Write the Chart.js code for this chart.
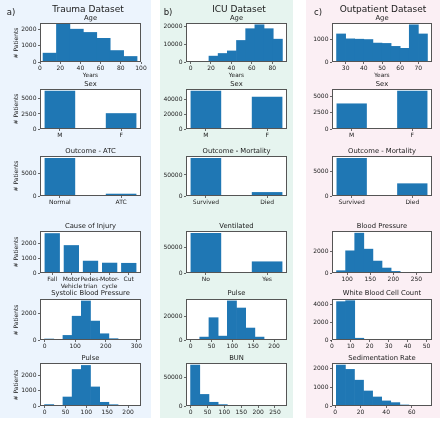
<!DOCTYPE html>
<html><head><meta charset="utf-8">
<script src="https://cdn.jsdelivr.net/npm/chart.js@4.4.0/dist/chart.umd.min.js"></script>
<style>
html,body{margin:0;padding:0;}
body{width:440px;height:421px;position:relative;overflow:hidden;background:#fff;font-family:'DejaVu Sans',sans-serif;}
.panel{position:absolute;}
.t{position:absolute;transform:translate(-50%,-50%);white-space:nowrap;color:#1a1a1a;line-height:1;}
.yl{position:absolute;transform:translate(-50%,-50%) rotate(-90deg);white-space:nowrap;color:#1a1a1a;font-size:6px;line-height:1;}
canvas{position:absolute;}
</style></head><body>
<div class="panel" style="left:0;top:0;width:151px;height:418px;background:#ecf4fd"></div>
<div class="panel" style="left:160px;top:0;width:133px;height:418px;background:#e6f4ef"></div>
<div class="panel" style="left:306px;top:0;width:134px;height:418px;background:#fbeff4"></div>
<script>
// ---------- Trauma dataset ----------
const traumaAgeCenters = [9.65, 22.95, 36.25, 49.55, 62.85, 76.15, 89.45];
const traumaAge = [545, 2320, 2020, 1820, 1455, 705, 340];
const sexLabels = ['M', 'F'];
const traumaSex = [6350, 2630];
const atcLabels = ['Normal', 'ATC'];
const traumaATC = [8590, 515];
const injuryLabels = ['Fall', ['Motor', 'Vehicle'], ['Pedes-', 'trian'], ['Motor-', 'cycle'], 'Cut'];
const traumaInjury = [2730, 1910, 840, 705, 690];
const traumaSbpCenters = [15, 45, 75, 105, 135, 165, 195, 225, 255, 285];
const traumaSbp = [75, 0, 350, 1810, 2970, 1440, 475, 100, 15, 5];
const traumaPulseCenters = [11, 33, 55, 77, 99, 121, 143, 165, 187, 209];
const traumaPulse = [92, 0, 590, 2395, 2660, 1250, 243, 85, 10, 5];

// ---------- ICU dataset ----------
const icuAgeCenters = [4.5, 13.5, 22.5, 31.5, 40.5, 49.5, 58.5, 67.5, 76.5, 85.5];
const icuAge = [20, 300, 3270, 4740, 6160, 11990, 18530, 20710, 18530, 12700];
const icuSex = [51000, 43000];
const mortLabels = ['Survived', 'Died'];
const icuMort = [90300, 9300];
const ventLabels = ['No', 'Yes'];
const icuVent = [79300, 23000];
const icuPulseCenters = [11, 33, 55, 77, 99, 121, 143, 165, 187, 209];
const icuPulse = [100, 2430, 18650, 3240, 32700, 26760, 10000, 2430, 500, 100];
const icuBunCenters = [13.6, 40.8, 68, 95.2, 122.4, 149.6, 176.8, 204, 231.2, 258.4];
const icuBun = [71400, 20200, 6500, 2400, 800, 300, 150, 60, 30, 10];

// ---------- Outpatient dataset ----------
const outAgeCenters = [27.5, 32.5, 37.5, 42.5, 47.5, 52.5, 57.5, 62.5, 67.5, 72.5];
const outAge = [1230, 1015, 1000, 985, 830, 815, 685, 600, 1630, 1230];
const outSex = [3960, 5910];
const outMort = [7660, 2540];
const outBpCenters = [86.85, 106.55, 126.25, 145.95, 165.65, 185.35, 205.05, 224.75, 244.45, 264.15];
const outBp = [215, 2060, 3700, 2215, 1108, 460, 150, 50, 15, 5];
const outWbcCenters = [4.9, 9.7, 14.5, 19.3, 24.1, 28.9, 33.7, 38.5, 43.3, 48.1];
const outWbc = [4350, 4460, 200, 25, 10, 5, 3, 2, 1, 1];
const outSedCenters = [4.55, 11.65, 18.75, 25.85, 32.95, 40.05, 47.15, 54.25, 61.35, 68.45];
const outSed = [2180, 1950, 1375, 800, 480, 270, 180, 55, 10, 5];

// ---------- tick labels ----------
const tAgeX = [0, 20, 40, 60, 80, 100];
const tSbpX = [0, 100, 200, 300];
const tPulseX = [0, 50, 100, 150, 200];
const tIcuAgeX = [0, 20, 40, 60, 80];
const tBunX = [0, 50, 100, 150, 200, 250];
const tOutAgeX = [30, 40, 50, 60, 70];
const tBpX = [100, 150, 200, 250];
const tWbcX = [0, 10, 20, 30, 40, 50];
const tSedX = [0, 20, 40, 60];

const COLOR = '#1f77b4';
const FONT = "'DejaVu Sans', sans-serif";

const framePlugin = {
  id: 'frame',
  beforeDraw(chart) {
    const {ctx, chartArea: a} = chart;
    ctx.save(); ctx.fillStyle = '#fff';
    ctx.fillRect(a.left, a.top, a.right - a.left, a.bottom - a.top);
    ctx.restore();
  },
  afterDraw(chart) {
    const {ctx, chartArea: a} = chart;
    ctx.save(); ctx.strokeStyle = '#555'; ctx.lineWidth = 1;
    ctx.strokeRect(a.left + 0.5, a.top + 0.5, a.right - a.left - 1, a.bottom - a.top - 1);
    ctx.restore();
  }
};

function text(s, x, y, size, cls) {
  const d = document.createElement('div');
  d.className = cls || 't';
  d.textContent = s;
  d.style.left = x + 'px'; d.style.top = y + 'px';
  if (size) d.style.fontSize = size + 'px';
  document.body.appendChild(d);
}

function plot(rect, xs, ys, o) {
  const [l, t, r, b] = rect;
  const pw = r - l, ph = b - t;
  const L = 34, T = 8, R = 12, XH = o.xh || 14;
  const c = document.createElement('canvas');
  c.width = pw + L + R; c.height = ph + T + XH;
  c.style.left = (l - L) + 'px'; c.style.top = (t - T) + 'px';
  document.body.appendChild(c);
  const tickFont = {family: FONT, size: 6};
  const grid = {offset: false, drawOnChartArea: false, drawTicks: true, tickLength: 2, color: '#444', lineWidth: 0.8};
  new Chart(c, {
    type: 'bar',
    data: {datasets: [{
      data: xs.map((x, i) => ({x: x, y: ys[i]})),
      backgroundColor: COLOR, borderWidth: 0,
      categoryPercentage: o.cp || 1, barPercentage: 1
    }]},
    options: {
      responsive: false, animation: false, devicePixelRatio: 1,
      layout: {padding: {left: 0, top: T, right: R, bottom: 0}},
      plugins: {legend: {display: false}, tooltip: {enabled: false}, title: {display: false}},
      scales: {
        x: {
          type: 'linear', offset: false, min: o.xr[0], max: o.xr[1],
          afterBuildTicks: s => { s.ticks = o.xt.map(v => ({value: v})); },
          afterFit: s => { s.height = XH; },
          ticks: {autoSkip: false, maxRotation: 0, minRotation: 0, padding: 1, font: tickFont, color: '#222',
            callback: o.xl ? (v => o.xl[v]) : (v => String(v))},
          grid: grid, border: {display: false}
        },
        y: {
          type: 'linear', min: 0, max: o.ymax,
          afterBuildTicks: s => { s.ticks = o.yt.map(v => ({value: v})); },
          afterFit: s => { s.width = L; },
          ticks: {autoSkip: false, padding: 1.5, font: tickFont, color: '#222', callback: v => String(v)},
          grid: grid, border: {display: false}
        }
      }
    },
    plugins: [framePlugin]
  });
}

const rows = [[23, 62], [89, 129], [156, 196], [231, 273], [299, 340], [363, 406]];
const titleY = [18, 83.5, 150.5, 226, 292.5, 358];
const colA = [40, 141], colB = [186, 287], colC = [332, 432];
const R = (col, i) => [col[0], rows[i][0], col[1], rows[i][1]];
const cat2 = [-0.325, 1.325];

// Panel a
plot(R(colA,0), traumaAgeCenters, traumaAge, {xr:[0,100], xt:tAgeX, ymax:2400, yt:[0,1000,2000]});
plot(R(colA,1), [0,1], traumaSex, {xr:cat2, xt:[0,1], xl:sexLabels, cp:0.5, ymax:6650, yt:[0,2500,5000]});
plot(R(colA,2), [0,1], traumaATC, {xr:cat2, xt:[0,1], xl:atcLabels, cp:0.5, ymax:9030, yt:[0,5000]});
plot(R(colA,3), [0,1,2,3,4], traumaInjury, {xr:[-0.64,4.64], xt:[0,1,2,3,4], xl:injuryLabels, cp:0.8, xh:24, ymax:2880, yt:[0,1000,2000]});
plot(R(colA,4), traumaSbpCenters, traumaSbp, {xr:[-15,315], xt:tSbpX, ymax:3120, yt:[0,2000]});
plot(R(colA,5), traumaPulseCenters, traumaPulse, {xr:[-11,231], xt:tPulseX, ymax:2820, yt:[0,1000,2000]});

// Panel b
plot(R(colB,0), icuAgeCenters, icuAge, {xr:[-4.5,94.5], xt:tIcuAgeX, ymax:21700, yt:[0,10000,20000]});
plot(R(colB,1), [0,1], icuSex, {xr:cat2, xt:[0,1], xl:sexLabels, cp:0.5, ymax:53500, yt:[0,20000,40000]});
plot(R(colB,2), [0,1], icuMort, {xr:cat2, xt:[0,1], xl:mortLabels, cp:0.5, ymax:95000, yt:[0,50000]});
plot(R(colB,3), [0,1], icuVent, {xr:cat2, xt:[0,1], xl:ventLabels, cp:0.5, ymax:83500, yt:[0,50000]});
plot(R(colB,4), icuPulseCenters, icuPulse, {xr:[-11,231], xt:tPulseX, ymax:34300, yt:[0,20000]});
plot(R(colB,5), icuBunCenters, icuBun, {xr:[-13.6,285.6], xt:tBunX, ymax:75000, yt:[0,50000]});

// Panel c
plot(R(colC,0), outAgeCenters, outAge, {xr:[22.5,77.5], xt:tOutAgeX, ymax:1710, yt:[0,1000]});
plot(R(colC,1), [0,1], outSex, {xr:cat2, xt:[0,1], xl:sexLabels, cp:0.5, ymax:6200, yt:[0,2500,5000]});
plot(R(colC,2), [0,1], outMort, {xr:cat2, xt:[0,1], xl:mortLabels, cp:0.5, ymax:8040, yt:[0,5000]});
plot(R(colC,3), outBpCenters, outBp, {xr:[67.2,283.8], xt:tBpX, ymax:3900, yt:[0,2000]});
plot(R(colC,4), outWbcCenters, outWbc, {xr:[0.1,52.9], xt:tWbcX, ymax:4650, yt:[0,2000,4000]});
plot(R(colC,5), outSedCenters, outSed, {xr:[-2.4,75.9], xt:tSedX, ymax:2290, yt:[0,1000,2000]});

// Text
text('a)', 11, 12, 8.5); text('Trauma Dataset', 88, 9, 9);
text('b)', 168, 12, 8.5); text('ICU Dataset', 239, 9, 9);
text('c)', 318, 12, 8.5); text('Outpatient Dataset', 383, 9, 9);
const titlesA = ['Age', 'Sex', 'Outcome - ATC', 'Cause of Injury', 'Systolic Blood Pressure', 'Pulse'];
const titlesB = ['Age', 'Sex', 'Outcome - Mortality', 'Ventilated', 'Pulse', 'BUN'];
const titlesC = ['Age', 'Sex', 'Outcome - Mortality', 'Blood Pressure', 'White Blood Cell Count', 'Sedimentation Rate'];
[[colA, titlesA], [colB, titlesB], [colC, titlesC]].forEach(([col, ts]) => {
  ts.forEach((s, i) => text(s, (col[0] + col[1]) / 2, titleY[i], 6.8));
  text('Years', (col[0] + col[1]) / 2, 76, 5.8);
});
rows.forEach(r => text('# Patients', 16, (r[0] + r[1]) / 2, null, 'yl'));
</script>
</body></html>
